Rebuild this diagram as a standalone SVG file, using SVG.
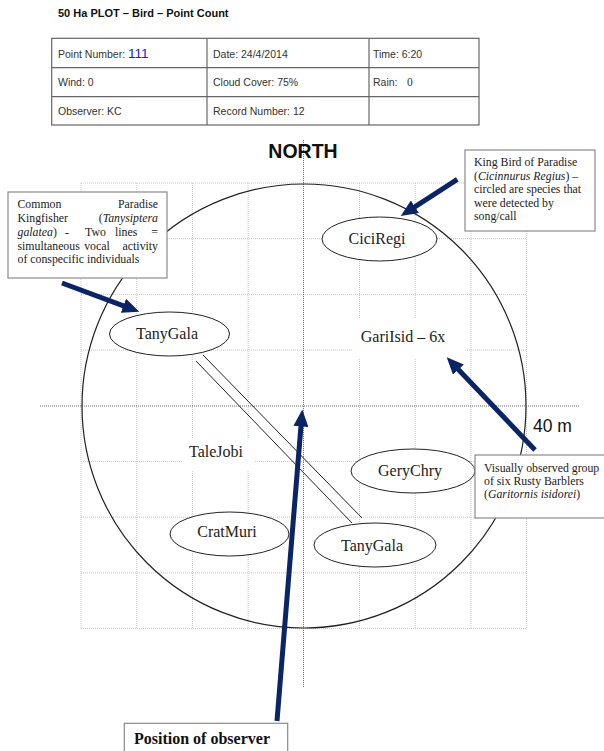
<svg xmlns="http://www.w3.org/2000/svg" width="604" height="751" viewBox="0 0 604 751">
<style>
.sans{font-family:"Liberation Sans",Arial,sans-serif;}
.serif{font-family:"Liberation Serif","Times New Roman",serif;}
.tbl{font-size:10.5px;fill:#333;}
.grid line{stroke:#c6c6c6;stroke-width:1;stroke-dasharray:1 1;}
.axis{stroke:#666;stroke-width:1;stroke-dasharray:1 1;}
.node ellipse{fill:#fff;stroke:#222;stroke-width:1;}
.lbl{font-size:16px;fill:#222;text-anchor:middle;}
.note{fill:#fff;stroke:#8a8a8a;stroke-width:1.2;}
.nt{font-size:11.8px;fill:#222;}
.arrow{stroke:#0a2466;stroke-width:5;fill:none;marker-end:url(#ah);}
.pair line{stroke:#222;stroke-width:1;}
</style>
<defs>
<marker id="ah" markerWidth="3.4" markerHeight="3" refX="0.3" refY="1.5" orient="auto" markerUnits="strokeWidth">
<path d="M0,0 L3.4,1.5 L0,3 z" fill="#0a2466"/>
</marker>
</defs>
<rect width="604" height="751" fill="#fff"/>

<!-- Header -->
<text class="sans" x="58" y="17" font-size="11" font-weight="bold" fill="#111">50 Ha PLOT – Bird – Point Count</text>
<g id="table">
<rect x="51.7" y="38.3" width="427.3" height="86.7" fill="none" stroke="#666" stroke-width="1.2"/>
<line x1="51.7" y1="67.7" x2="479" y2="67.7" stroke="#666" stroke-width="1.2"/>
<line x1="51.7" y1="96.7" x2="479" y2="96.7" stroke="#666" stroke-width="1.2"/>
<line x1="207" y1="38.3" x2="207" y2="125" stroke="#666" stroke-width="1.2"/>
<line x1="369" y1="38.3" x2="369" y2="125" stroke="#666" stroke-width="1.2"/>
<text class="sans tbl" x="58" y="58">Point Number: <tspan fill="#1a22cc" font-size="13.5">111</tspan></text>
<text class="sans tbl" x="213" y="58">Date: 24/4/2014</text>
<text class="sans tbl" x="373" y="58">Time: 6:20</text>
<text class="sans tbl" x="58" y="86">Wind: 0</text>
<text class="sans tbl" x="213" y="86">Cloud Cover: 75%</text>
<text class="sans tbl" x="373" y="86">Rain: <tspan class="serif" x="407" font-size="11.5">0</tspan></text>
<text class="sans tbl" x="58" y="115">Observer: KC</text>
<text class="sans tbl" x="213" y="115">Record Number: 12</text>
</g>

<!-- Grid -->
<g class="grid">
<line x1="81" y1="183" x2="81" y2="628.6"/>
<line x1="136.7" y1="183" x2="136.7" y2="628.6"/>
<line x1="192.4" y1="183" x2="192.4" y2="628.6"/>
<line x1="248.1" y1="183" x2="248.1" y2="628.6"/>
<line x1="359.5" y1="183" x2="359.5" y2="628.6"/>
<line x1="415.2" y1="183" x2="415.2" y2="628.6"/>
<line x1="470.9" y1="183" x2="470.9" y2="628.6"/>
<line x1="526.6" y1="183" x2="526.6" y2="628.6"/>
<line x1="81" y1="183" x2="526.6" y2="183"/>
<line x1="81" y1="238.7" x2="526.6" y2="238.7"/>
<line x1="81" y1="294.4" x2="526.6" y2="294.4"/>
<line x1="81" y1="350.1" x2="526.6" y2="350.1"/>
<line x1="81" y1="461.5" x2="526.6" y2="461.5"/>
<line x1="81" y1="517.2" x2="526.6" y2="517.2"/>
<line x1="81" y1="572.9" x2="526.6" y2="572.9"/>
<line x1="81" y1="628.6" x2="526.6" y2="628.6"/>
</g>
<line class="axis" x1="303.5" y1="140" x2="303.5" y2="687"/>
<line class="axis" x1="40" y1="406" x2="579" y2="406"/>
<text class="sans" x="303" y="158" font-size="19.5" font-weight="bold" fill="#111" text-anchor="middle">NORTH</text>
<circle cx="304" cy="406" r="222" fill="none" stroke="#222" stroke-width="1.2"/>
<text class="sans" x="533" y="432" font-size="17.5" fill="#111">40 m</text>

<!-- Connectors -->
<g id="connectors">
<g class="pair">
<line x1="203" y1="355" x2="362" y2="518"/>
<line x1="196" y1="361" x2="352" y2="523"/>
</g>
</g>

<!-- Nodes -->
<g id="n-cicregi" class="node">
<ellipse cx="379.5" cy="239" rx="57.5" ry="22"/>
<text class="serif lbl" x="377" y="244">CiciRegi</text>
</g>
<g id="n-tanygala1" class="node">
<ellipse cx="169.5" cy="334" rx="60" ry="22"/>
<text class="serif lbl" x="167" y="339">TanyGala</text>
</g>
<g id="n-garisid">
<rect x="352" y="318" width="112" height="40" fill="#fff"/>
<text class="serif lbl" x="403" y="342">GariIsid – 6x</text>
</g>
<g id="n-talejobi">
<rect x="182" y="438" width="73" height="32" fill="#fff"/>
<text class="serif lbl" x="216" y="457">TaleJobi</text>
</g>
<g id="n-cratmuri" class="node">
<ellipse cx="229.5" cy="534" rx="59.5" ry="22"/>
<text class="serif lbl" x="227" y="537">CratMuri</text>
</g>
<g id="n-gerychry" class="node">
<ellipse cx="413" cy="471" rx="62" ry="22"/>
<text class="serif lbl" x="410" y="476">GeryChry</text>
</g>
<g id="n-tanygala2" class="node">
<ellipse cx="375" cy="545" rx="61" ry="22"/>
<text class="serif lbl" x="372" y="551">TanyGala</text>
</g>

<!-- Notes -->
<g id="note-kingfisher">
<rect class="note" x="8" y="192" width="159" height="86"/>
<g class="serif nt">
<text x="17.5" y="208">Common</text>
<text x="158" y="208" text-anchor="end">Paradise</text>
<text x="17.5" y="222">Kingfisher</text>
<text x="158" y="222" text-anchor="end">(<tspan font-style="italic">Tanysiptera</tspan></text>
<text x="17.5" y="236"><tspan font-style="italic">galatea</tspan>)</text>
<text x="65" y="236">-</text>
<text x="85" y="236">Two</text>
<text x="115" y="236">lines</text>
<text x="158" y="236" text-anchor="end">=</text>
<text x="17.5" y="249.5">simultaneous</text>
<text x="97" y="249.5" text-anchor="middle">vocal</text>
<text x="158" y="249.5" text-anchor="end">activity</text>
<text x="17.5" y="263">of conspecific individuals</text>
</g>
</g>
<g id="note-kingbird">
<rect class="note" x="465" y="150" width="130" height="81"/>
<g class="serif nt">
<text x="474" y="166">King Bird of Paradise</text>
<text x="474" y="180">(<tspan font-style="italic">Cicinnurus Regius</tspan>) –</text>
<text x="474" y="193">circled are species that</text>
<text x="474" y="206.5">were detected by</text>
<text x="474" y="220">song/call</text>
</g>
</g>
<g id="note-barblers">
<rect class="note" x="475" y="455" width="135" height="63"/>
<g class="serif nt">
<text x="484" y="472">Visually observed group</text>
<text x="484" y="485">of six Rusty Barblers</text>
<text x="484" y="498">(<tspan font-style="italic">Garitornis isidorei</tspan>)</text>
</g>
</g>
<g id="note-observer">
<rect class="note" x="124.3" y="723.3" width="163.4" height="32"/>
<text class="serif" x="134" y="744" font-size="16" font-weight="bold" fill="#111">Position of observer</text>
</g>

<!-- Arrows -->
<g id="arrows">
<line class="arrow" x1="62" y1="283" x2="124.8" y2="306.3"/>
<line class="arrow" x1="457.3" y1="179.3" x2="413.7" y2="207.6"/>
<line class="arrow" x1="535" y1="450" x2="457.4" y2="368.5"/>
<line class="arrow" x1="277" y1="721" x2="301.05" y2="424.95"/>
</g>
</svg>
